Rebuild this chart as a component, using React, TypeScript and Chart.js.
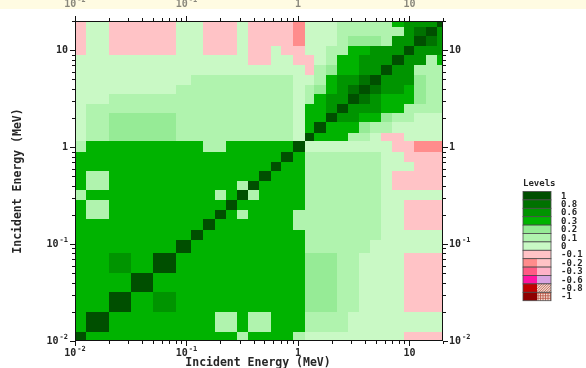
import React, { useEffect, useRef } from 'react';
import { Chart, registerables } from 'chart.js';

Chart.register(...registerables);

// Energy group boundaries (MeV)
const ENERGY_EDGES = [
  0.01, 0.0125, 0.02, 0.032, 0.05, 0.08, 0.11, 0.14, 0.18, 0.225, 0.285, 0.36, 0.45, 0.57, 0.71,
  0.9, 1.15, 1.4, 1.8, 2.25, 2.8, 3.5, 4.4, 5.6, 7, 8.9, 11, 14, 17.5, 20,
];

// Lower triangle of the symmetric correlation matrix: row i holds groups 0..i
const CORR_LOWER: number[][] = [
  [1],
  [.45, 1],
  [.45, .45, 1],
  [.45, .45, .45, 1],
  [.45, .45, .7, .45, 1],
  [.45, .45, .45, .45, .45, 1],
  [.45, .45, .45, .45, .45, .45, 1],
  [.45, .45, .45, .45, .45, .45, .45, 1],
  [.45, .15, .45, .45, .45, .45, .45, .45, 1],
  [.45, .15, .45, .45, .45, .45, .45, .45, .45, 1],
  [.15, .45, .45, .45, .45, .45, .45, .45, .15, .45, 1],
  [.45, .15, .45, .45, .45, .45, .45, .45, .45, .45, .15, 1],
  [.45, .15, .45, .45, .45, .45, .45, .45, .45, .45, .45, .45, 1],
  [.45, .45, .45, .45, .45, .45, .45, .45, .45, .45, .45, .45, .45, 1],
  [.45, .45, .45, .45, .45, .45, .45, .45, .45, .45, .45, .45, .45, .45, 1],
  [.15, .45, .45, .45, .45, .45, .45, .15, .15, .45, .45, .45, .45, .45, .45, 1],
  [.05, .15, .25, .25, .25, .15, .15, .15, .15, .15, .15, .15, .15, .15, .15, .05, 1],
  [.05, .15, .25, .25, .25, .15, .15, .15, .15, .15, .15, .15, .15, .15, .15, .05, .45, 1],
  [.05, .15, .25, .25, .25, .15, .15, .15, .15, .15, .15, .15, .15, .15, .15, .05, .45, .45, 1],
  [.05, .15, .15, .15, .15, .15, .15, .15, .15, .15, .15, .15, .15, .15, .15, .05, .45, .45, .7, 1],
  [.05, .05, .15, .15, .15, .15, .15, .15, .15, .15, .15, .15, .15, .15, .15, .05, .15, .45, .7, .7, 1],
  [.05, .05, .05, .05, .05, .15, .15, .15, .15, .15, .15, .15, .15, .15, .15, .05, .15, .25, .45, .7, .85, 1],
  [.05, .05, .05, .05, .05, .05, .15, .15, .15, .15, .15, .15, .15, .15, .15, .05, .05, .15, .45, .7, .7, .85, 1],
  [.05, .05, .05, .05, .05, .05, .05, .05, .05, .05, .05, .05, .05, .05, .05, .05, -.05, .15, .25, .45, .45, .7, .7, 1],
  [.05, .05, .05, .05, .05, .05, .05, .05, .05, .05, .05, -.05, -.05, .05, .05, -.05, -.05, .05, .15, .45, .45, .7, .7, .7, 1],
  [-.05, .05, -.05, -.05, -.05, .05, .05, -.05, -.05, -.05, .05, -.05, -.05, .05, -.05, -.05, .05, .05, .15, .15, .45, .45, .7, .7, .7, 1],
  [-.05, .05, -.05, -.05, -.05, .05, .05, -.05, -.05, -.05, .05, -.05, -.05, -.05, -.05, -.15, .05, .05, .05, .15, .25, .25, .25, .15, .7, .7, 1],
  [-.05, .05, -.05, -.05, -.05, .05, .05, -.05, -.05, -.05, .05, -.05, -.05, -.05, -.05, -.15, .05, .05, .05, .15, .15, .15, .15, .15, .15, .7, .85, 1],
  [-.05, .05, -.05, -.05, -.05, .05, .05, -.05, -.05, -.05, .05, -.05, -.05, -.05, -.05, -.15, .05, .05, .05, .15, .15, .15, .15, .15, .45, .7, .7, .7, 1],
];

// Contour levels and their fills
const LEVEL_VALUES = [1, 0.8, 0.6, 0.3, 0.2, 0.1, 0, -0.1, -0.2, -0.3, -0.6, -0.8, -1];
const LEVEL_LABELS = ['1', '0.8', '0.6', '0.3', '0.2', '0.1', '0', '-0.1', '-0.2', '-0.3', '-0.6', '-0.8', '-1'];
const LEVEL_COLORS = [
  '#004f00', '#007200', '#009400', '#00b300', '#96eb96', '#b0f3ae', '#c9f9c5',
  '#ffc3c6', '#ff8c8c', '#ff5a84', '#ff14a2', '#c20000', '#8e0000',
];
const LEVEL_ALT = ['', '', '', '', '', '', '', '', '#ffc3c6', '#ffb2c8', '#d9a4e2', 'hatch', 'grid'];

// Decade tick labels (base and exponent)
const DECADE_VALUES = [0.01, 0.1, 1, 10];
const DECADE_BASE = ['10', '10', '1', '10'];
const DECADE_EXP = ['-2', '-1', '', ''];

const AXIS_TITLE = 'Incident Energy (MeV)';
const LEGEND_TITLE = 'Levels';

const MONO = '"DejaVu Sans Mono", "Liberation Mono", monospace';
const TEXT = '#262626';

function levelIndex(v: number) {
  for (let k = 0; k < LEVEL_VALUES.length; k++) {
    if (v >= LEVEL_VALUES[k] - 1e-9) return k;
  }
  return LEVEL_VALUES.length - 1;
}

function corr(i: number, j: number) {
  return i >= j ? CORR_LOWER[i][j] : CORR_LOWER[j][i];
}

const heatmapPlugin = {
  id: 'corrHeatmap',
  beforeDatasetsDraw(chart: any) {
    const { ctx } = chart;
    const xs = chart.scales.x;
    const ys = chart.scales.y;
    const n = ENERGY_EDGES.length - 1;
    ctx.save();
    for (let i = 0; i < n; i++) {
      const yb = Math.round(ys.getPixelForValue(ENERGY_EDGES[i]));
      const yt = Math.round(ys.getPixelForValue(ENERGY_EDGES[i + 1]));
      for (let j = 0; j < n; j++) {
        const xl = Math.round(xs.getPixelForValue(ENERGY_EDGES[j]));
        const xr = Math.round(xs.getPixelForValue(ENERGY_EDGES[j + 1]));
        ctx.fillStyle = LEVEL_COLORS[levelIndex(corr(i, j))];
        ctx.fillRect(xl, yt, xr - xl, yb - yt);
      }
    }
    ctx.restore();
  },
};

function drawPowerLabel(
  ctx: CanvasRenderingContext2D, base: string, exp: string,
  x: number, y: number, align: 'left' | 'center' | 'right',
) {
  const baseFont = `bold 10px ${MONO}`;
  const expFont = `bold 7px ${MONO}`;
  ctx.font = baseFont;
  const wb = ctx.measureText(base).width;
  ctx.font = expFont;
  const we = exp ? ctx.measureText(exp).width + 1 : 0;
  const w = wb + we;
  let x0 = x;
  if (align === 'center') x0 = x - w / 2;
  if (align === 'right') x0 = x - w;
  ctx.textAlign = 'left';
  ctx.textBaseline = 'middle';
  ctx.font = baseFont;
  ctx.fillText(base, x0, y);
  if (exp) {
    ctx.font = expFont;
    ctx.fillText(exp, x0 + wb + 1, y - 3.5);
  }
}

const framePlugin = {
  id: 'corrFrame',
  afterDraw(chart: any) {
    const { ctx, chartArea: a } = chart;
    const xs = chart.scales.x;
    const ys = chart.scales.y;
    ctx.save();

    // band along the top edge
    ctx.fillStyle = '#fffbe2';
    ctx.fillRect(0, 0, chart.width, 9);

    // plot frame
    ctx.strokeStyle = '#111';
    ctx.lineWidth = 1;
    ctx.strokeRect(a.left + 0.5, a.top + 0.5, a.right - a.left - 1, a.bottom - a.top - 1);

    // log ticks on all four sides, pointing outward
    ctx.beginPath();
    DECADE_VALUES.forEach((d) => {
      for (let m = 1; m <= 9; m++) {
        const v = d * m;
        if (v > 20) continue;
        const len = m === 1 ? 5 : 3;
        const px = Math.round(xs.getPixelForValue(v)) + 0.5;
        const py = Math.round(ys.getPixelForValue(v)) + 0.5;
        ctx.moveTo(px, a.bottom); ctx.lineTo(px, a.bottom + len);
        ctx.moveTo(px, a.top); ctx.lineTo(px, a.top - len);
        ctx.moveTo(a.left, py); ctx.lineTo(a.left - len, py);
        ctx.moveTo(a.right, py); ctx.lineTo(a.right + len, py);
      }
    });
    ctx.stroke();

    // decade labels
    ctx.fillStyle = TEXT;
    DECADE_VALUES.forEach((d, k) => {
      const px = xs.getPixelForValue(d);
      const py = ys.getPixelForValue(d);
      drawPowerLabel(ctx, DECADE_BASE[k], DECADE_EXP[k], px, a.bottom + 12, 'center');
      drawPowerLabel(ctx, DECADE_BASE[k], DECADE_EXP[k], a.left - 7, py, 'right');
      drawPowerLabel(ctx, DECADE_BASE[k], DECADE_EXP[k], a.right + 6, py, 'left');
    });
    ctx.save();
    ctx.globalAlpha = 0.55;
    DECADE_VALUES.forEach((d, k) => {
      const px = xs.getPixelForValue(d);
      drawPowerLabel(ctx, DECADE_BASE[k], DECADE_EXP[k], px, 4, 'center');
    });
    ctx.restore();

    // axis titles
    ctx.font = `bold 11.5px ${MONO}`;
    ctx.textAlign = 'center';
    ctx.textBaseline = 'middle';
    ctx.fillText(AXIS_TITLE, (a.left + a.right) / 2 - 1, a.bottom + 22);
    ctx.save();
    ctx.translate(18, (a.top + a.bottom) / 2);
    ctx.rotate(-Math.PI / 2);
    ctx.fillText(AXIS_TITLE, 0, 0);
    ctx.restore();

    // level legend
    const lx = 523;
    const lw = 28;
    const ly0 = 191.5;
    const lh = 8.4;
    ctx.font = `bold 9px ${MONO}`;
    ctx.textAlign = 'left';
    ctx.textBaseline = 'middle';
    ctx.fillText(LEGEND_TITLE, lx, 184);
    LEVEL_COLORS.forEach((c, k) => {
      const y = ly0 + k * lh;
      const alt = LEVEL_ALT[k];
      ctx.fillStyle = c;
      ctx.fillRect(lx, y, alt ? lw / 2 : lw, lh);
      if (alt === 'hatch' || alt === 'grid') {
        ctx.save();
        ctx.beginPath();
        ctx.rect(lx + lw / 2, y, lw / 2, lh);
        ctx.clip();
        ctx.fillStyle = '#f4dcd2';
        ctx.fillRect(lx + lw / 2, y, lw / 2, lh);
        ctx.strokeStyle = '#b85040';
        ctx.lineWidth = 0.8;
        ctx.beginPath();
        if (alt === 'hatch') {
          for (let t = -lh; t < lw / 2 + lh; t += 2.5) {
            ctx.moveTo(lx + lw / 2 + t, y + lh);
            ctx.lineTo(lx + lw / 2 + t + lh, y);
          }
        } else {
          for (let t = 1; t < lw / 2; t += 2.5) {
            ctx.moveTo(lx + lw / 2 + t, y);
            ctx.lineTo(lx + lw / 2 + t, y + lh);
          }
          for (let t = 1; t < lh; t += 2.5) {
            ctx.moveTo(lx + lw / 2, y + t);
            ctx.lineTo(lx + lw, y + t);
          }
        }
        ctx.stroke();
        ctx.restore();
      } else if (alt) {
        ctx.fillStyle = alt;
        ctx.fillRect(lx + lw / 2, y, lw / 2, lh);
      }
      ctx.strokeStyle = '#4a4a4a';
      ctx.lineWidth = 0.8;
      ctx.strokeRect(lx, y, lw, lh);
      ctx.fillStyle = TEXT;
      ctx.fillText(LEVEL_LABELS[k], 561, y + lh / 2 + 0.5);
    });

    ctx.restore();
  },
};

export default function App() {
  const canvasRef = useRef<HTMLCanvasElement>(null);

  useEffect(() => {
    document.body.style.margin = '0';
    const canvas = canvasRef.current;
    if (!canvas) return;
    const chart = new Chart(canvas, {
      type: 'scatter',
      data: { datasets: [] },
      options: {
        animation: false,
        responsive: false,
        devicePixelRatio: 1,
        layout: { padding: { left: 75, right: 143, top: 21, bottom: 27 } },
        plugins: { legend: { display: false }, tooltip: { enabled: false } },
        scales: {
          x: { type: 'logarithmic', min: 0.01, max: 20, display: false },
          y: { type: 'logarithmic', min: 0.01, max: 20, display: false },
        },
      },
      plugins: [heatmapPlugin, framePlugin],
    } as any);
    return () => chart.destroy();
  }, []);

  return <canvas ref={canvasRef} width={586} height={368} style={{ display: 'block' }} />;
}
